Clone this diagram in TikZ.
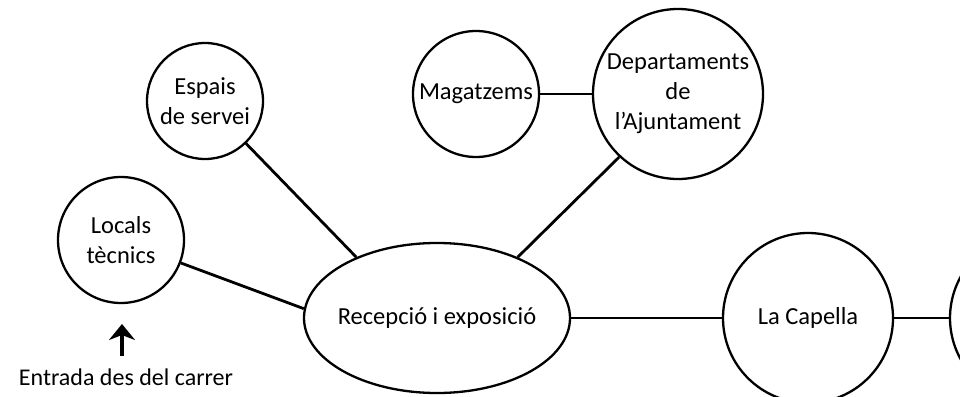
\documentclass[tikz,border=0pt]{standalone}
\usepackage{fontspec}
\setmainfont{Carlito}
\usetikzlibrary{shapes.geometric,arrows.meta}
\begin{document}
\begin{tikzpicture}[
                x=1pt, y=-1pt,
                every node/.style={font=\fontsize{24.5}{30}\selectfont, align=center, inner sep=0pt},
                room/.style={circle, draw, line width=2.3pt},
                hall/.style={ellipse, draw, line width=2.3pt, inner xsep=-6pt, minimum width=266pt, minimum height=150pt},
                link/.style={line width=2.8pt},
            ]
            \clip (0,0) rectangle (960,396);
            \node[hall] (recep) at (437,318) {Recepció i exposició};
            \node[room, minimum size=116pt] (espais) at (205,101) {Espais\\de servei};
            \node[room, minimum size=126pt] (locals) at (121,240) {Locals\\tècnics};
            \node[room, minimum size=126pt] (magatzems) at (476,94) {Magatzems};
            \node[room, minimum size=170pt] (depts) at (678,94) {Departaments\\de\\l’Ajuntament};
            \node[room, minimum size=170pt] (capella) at (808,318) {La Capella};
            \node[room, minimum size=170pt] (next) at (1035,318) {};
            \node[font=\fontsize{24}{30}\selectfont] (entrada) at (126,377) {Entrada des del carrer};
            \coordinate (arrowfoot) at (122,356);
            \coordinate (arrowtip) at (122,324);
            % connections
            \draw[link] (espais.-46) -- (recep.143);
            \draw[link] (locals.-21) -- (recep.176);
            \draw[link] (depts.227) -- (recep.37);
            \draw[link] (magatzems) -- (depts);
            \draw[link] (recep) -- (capella);
            \draw[link] (capella) -- (next);
            \draw[line width=4.5pt, -{Stealth[length=16pt, width=26pt, inset=5pt]}] (arrowfoot) -- (arrowtip);
            \end{tikzpicture}
\end{document}
